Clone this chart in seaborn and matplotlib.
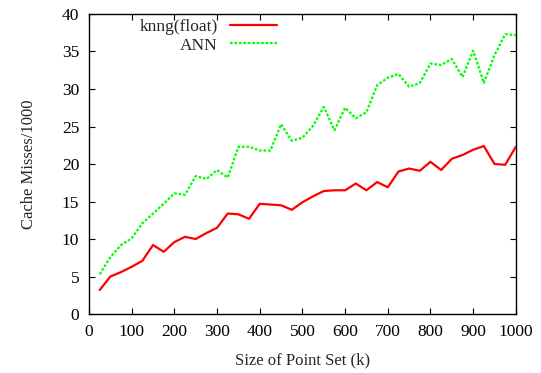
import numpy as np
import pandas as pd
import matplotlib
matplotlib.use("Agg")
import matplotlib.pyplot as plt
import seaborn as sns

sizes = list(range(25, 1001, 25))
knng_float = [3.2, 5.0, 5.6, 6.3, 7.1, 9.2, 8.3, 9.6, 10.3, 10.0,
              10.8, 11.5, 13.4, 13.3, 12.7, 14.7, 14.6, 14.5, 13.9, 14.9,
              15.7, 16.4, 16.5, 16.5, 17.4, 16.5, 17.6, 16.9, 19.0, 19.4,
              19.1, 20.3, 19.2, 20.7, 21.2, 21.9, 22.4, 20.0, 19.9, 22.3]
ann = [5.3, 7.6, 9.2, 10.1, 12.1, 13.4, 14.7, 16.1, 15.9, 18.4,
       18.0, 19.2, 18.2, 22.3, 22.3, 21.8, 21.8, 25.3, 23.1, 23.5,
       25.1, 27.6, 24.5, 27.5, 26.1, 26.9, 30.5, 31.5, 32.0, 30.3,
       30.8, 33.4, 33.2, 34.0, 31.6, 35.1, 30.8, 34.5, 37.3, 37.2]
x_ticks = [0, 100, 200, 300, 400, 500, 600, 700, 800, 900, 1000]
y_ticks = [0, 5, 10, 15, 20, 25, 30, 35, 40]

sns.set_style("ticks")
plt.rcParams['font.family'] = ['Liberation Serif', 'DejaVu Serif']

df = pd.DataFrame({"size": sizes * 2,
                   "misses": knng_float + ann,
                   "series": ["knng(float)"] * len(sizes) + ["ANN"] * len(sizes)})

fig = plt.figure(figsize=(5.41, 3.73), dpi=100)
ax = fig.add_axes([0.1645, 0.158, 0.789, 0.8045])

sns.lineplot(data=df, x="size", y="misses", hue="series", style="series",
             palette={"knng(float)": "#ff0000", "ANN": "#00ff00"},
             dashes={"knng(float)": "", "ANN": (1.2, 0.8)},
             linewidth=1.6, ax=ax, legend=True)

ax.set_xlim(0, 1000)
ax.set_ylim(0, 40)
ax.set_xticks(x_ticks)
ax.set_yticks(y_ticks)
ax.tick_params(direction="in", top=True, right=True, length=4, width=0.8,
               labelsize=12.5, colors="black", pad=7)
for s in ax.spines.values():
    s.set_visible(True)
    s.set_linewidth(1.0)
    s.set_color("black")
ax.set_xlabel("Size of Point Set (k)", fontsize=12)
ax.set_ylabel("Cache Misses/1000", fontsize=12)
ax.xaxis.set_label_coords(0.5, -0.127)
ax.yaxis.set_label_coords(-0.122, 0.5)

h, l = ax.get_legend_handles_labels()
ax.legend(h, l, loc="upper right", bbox_to_anchor=(0.440, 0.984),
          frameon=False, markerfirst=False, fontsize=12.5,
          handlelength=2.7, handletextpad=0.69, labelspacing=0.14,
          borderpad=0, borderaxespad=0)

fig.savefig("out.png", dpi=100)
